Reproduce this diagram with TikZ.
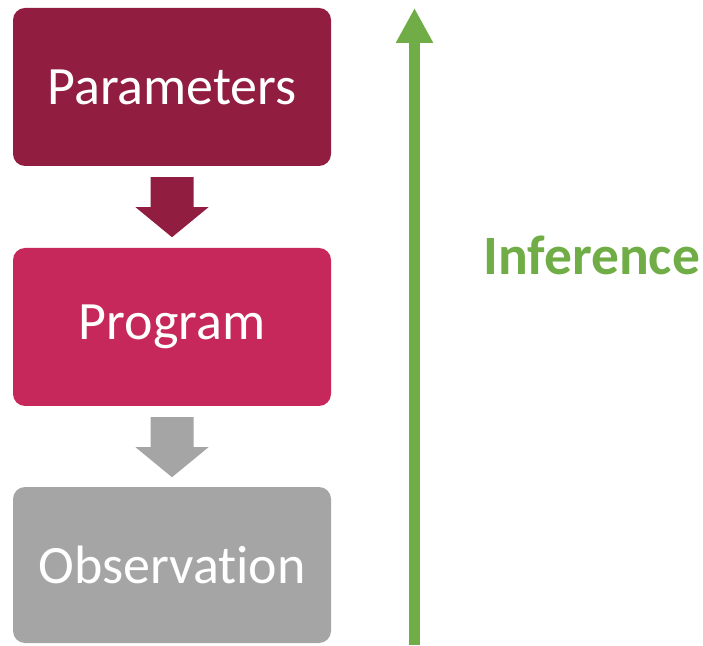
\documentclass[tikz,border=0pt]{standalone}
\usepackage{fontspec}
\setmainfont[Ligatures=NoCommon]{Carlito}
\usetikzlibrary{calc,arrows.meta}

\definecolor{parcol}{RGB}{145,29,64}
\definecolor{progcol}{RGB}{199,40,91}
\definecolor{obscol}{RGB}{165,165,165}
\definecolor{infcol}{RGB}{112,173,71}

\begin{document}
\begin{tikzpicture}[x=1pt,y=1pt,
  stagebox/.style={rectangle, rounded corners=12pt, minimum width=318pt,
    minimum height=158pt, inner sep=0pt, text=white,
    font=\fontsize{54}{60}\selectfont},
  downarrow/.pic={
    \path[pic actions] (-21.5,0) -- (21.5,0) -- (21.5,-30) -- (36.5,-30)
      -- (0,-60) -- (-36.5,-30) -- (-21.5,-30) -- cycle;
  }]
  \useasboundingbox (0,0) rectangle (703,645);

  % the three stages
  \node[stagebox, fill=parcol]  (par)  at (172,558) {Parameters};
  \node[stagebox, fill=progcol] (prog) at (172,318) {Program};
  \node[stagebox, fill=obscol, minimum height=156pt] (obs) at (172,80) {Observation};

  % block arrows between stages
  \pic[fill=parcol, draw=none] at ($(par.south)+(0,-11)$) {downarrow};
  \pic[fill=obscol, draw=none] at ($(prog.south)+(0,-11)$) {downarrow};

  % inference arrow
  \coordinate (infbot) at (414.5,0);
  \coordinate (inftop) at (414.5,637);
  \draw[infcol, line width=11pt, -{Triangle[width=35pt,length=35pt]}] (infbot) -- (inftop);
  \node[anchor=west, inner sep=0pt, text=infcol,
    font=\fontsize{55.5}{60}\selectfont\bfseries] (inf) at (483,390) {Inference};
\end{tikzpicture}
\end{document}
